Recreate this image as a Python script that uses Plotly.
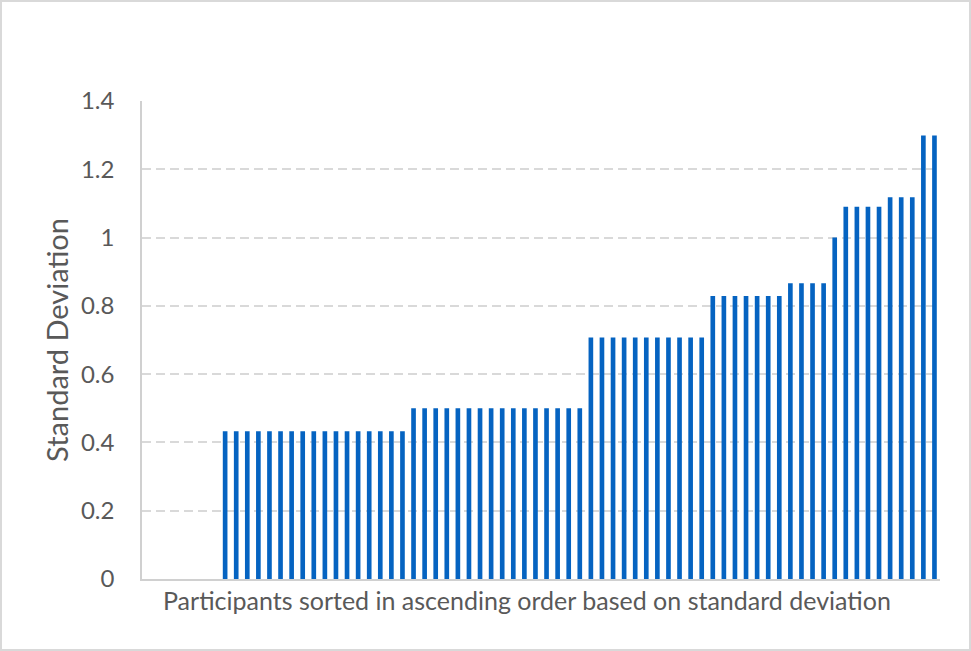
import plotly.graph_objects as go

# Data: standard deviation per participant, sorted ascending
# (first 7 categories are empty in the source chart)
participants = [f"P{i}" for i in range(1, 73)]
std_values = ([None] * 7 +
              [0.433] * 17 +
              [0.5] * 16 +
              [0.707] * 11 +
              [0.829] * 7 +
              [0.866] * 4 +
              [1.0] * 1 +
              [1.090] * 4 +
              [1.118] * 3 +
              [1.299] * 2)
y_ticks = [0, 0.2, 0.4, 0.6, 0.8, 1.0, 1.2, 1.4]
y_tick_labels = ["0", "0.2", "0.4", "0.6", "0.8", "1", "1.2", "1.4"]

W, H = 971, 651
L, R, T, B = 142, 31, 101, 72
pw, ph = W - L - R, H - T - B

fig = go.Figure(go.Bar(
    x=participants, y=std_values,
    marker=dict(color="#0563C1", line=dict(width=0)),
))

font_family = "Lato, 'Open Sans', sans-serif"

fig.update_layout(
    width=W, height=H,
    margin=dict(l=L, r=R, t=T, b=B),
    paper_bgcolor="white", plot_bgcolor="white",
    bargap=0.58,
    showlegend=False,
    font=dict(family=font_family, color="#595959"),
    xaxis=dict(
        type="category", showticklabels=False, showgrid=False,
        showline=True, linecolor="#d0d0d0", linewidth=1.5,
        ticks="", zeroline=False,
    ),
    yaxis=dict(
        range=[0, 1.4], tickvals=y_ticks, ticktext=y_tick_labels,
        showgrid=True, gridcolor="#d9d9d9", gridwidth=1.5, griddash="9px,5px",
        showline=True, linecolor="#d0d0d0", linewidth=1.5,
        zeroline=False, ticks="", ticklabelstandoff=21,
        tickfont=dict(size=24, color="#595959"),
        title=dict(text="Standard Deviation", font=dict(size=29, color="#595959"), standoff=4),
    ),
    annotations=[dict(
        text="Participants sorted in ascending order based on standard deviation",
        xref="paper", yref="paper", x=(527 - L) / pw, y=(579 - 600) / ph,
        xanchor="center", yanchor="middle", showarrow=False,
        font=dict(size=25, color="#595959"),
    )],
    shapes=[dict(
        type="rect", xref="paper", yref="paper",
        x0=(1 - L) / pw, x1=(970 - L) / pw,
        y0=(579 - 650) / ph, y1=(579 - 1) / ph,
        line=dict(color="#d9d9d9", width=2), fillcolor="rgba(0,0,0,0)",
        layer="below",
    )],
)

fig.write_html("out.html", config={"displayModeBar": False},
               post_script="document.body.style.margin='0';")
